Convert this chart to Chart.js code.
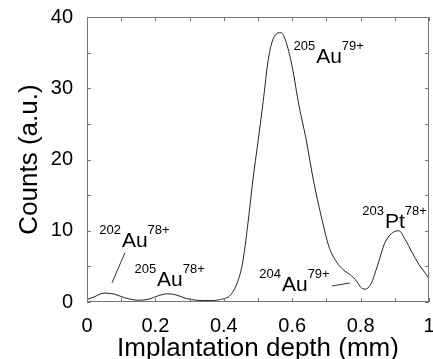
<!DOCTYPE html>
<html>
<head>
<meta charset="utf-8">
<script src="https://cdn.jsdelivr.net/npm/chart.js@4/dist/chart.umd.min.js"></script>
<style>
  html, body { margin: 0; padding: 0; background: #fff; }
  canvas { display: block; }
</style>
</head>
<body>
<canvas id="grafico" width="433" height="359"></canvas>
<script>
// profundidad de implantacion (mm) y cuentas (u.a.)
const profundidad = [0.00, 0.02, 0.05, 0.08, 0.11, 0.15, 0.18, 0.21, 0.235, 0.26, 0.29, 0.32, 0.36, 0.39,
  0.42, 0.44, 0.455, 0.47, 0.485, 0.50, 0.515, 0.53, 0.545, 0.567, 0.58, 0.60, 0.62, 0.64, 0.662,
  0.685, 0.708, 0.73, 0.75, 0.767, 0.78, 0.79, 0.80, 0.813, 0.83, 0.85, 0.87, 0.89, 0.912, 0.93,
  0.95, 0.97, 0.99, 1.00];
const cuentas = [0.35, 0.7, 1.25, 1.1, 0.6, 0.25, 0.4, 0.9, 1.15, 1.0, 0.5, 0.25, 0.2, 0.35,
  1.0, 2.8, 5.5, 10.8, 17.1, 22.5, 28.1, 34, 37, 37.8, 36.8, 33, 27.5, 23, 17.1,
  12, 7.7, 5.6, 4.5, 3.9, 3.4, 2.8, 2.1, 1.8, 2.5, 5.2, 8.2, 9.6, 10, 8.8,
  7, 5.3, 4, 3.3];

// etiquetas de isotopos
const masas = ['202', '205', '205', '204', '203'];
const elementos = ['Au', 'Au', 'Au', 'Au', 'Pt'];
const cargas = ['78+', '78+', '79+', '79+', '78+'];

// posiciones (en coordenadas de datos) de las etiquetas y lineas guia
const posEtiquetas = [[0.102, 7.7], [0.205, 2.3], [0.67, 33.5], [0.57, 1.6], [0.871, 10.4]];
const lineasGuia = [[[0.111, 6.9], [0.073, 2.7]], [[0.716, 2.25], [0.769, 2.67]]];

const fuente = "'Liberation Sans', Arial, Helvetica, sans-serif";

const marcoYAnotaciones = {
  id: 'marcoYAnotaciones',
  afterDraw(chart) {
    const ctx = chart.ctx;
    const a = chart.chartArea;
    const xs = chart.scales.x, ys = chart.scales.y;
    ctx.save();
    // marco
    ctx.strokeStyle = '#777';
    ctx.lineWidth = 1;
    ctx.strokeRect(a.left + 0.5, a.top + 0.5, a.right - a.left - 1, a.bottom - a.top - 1);
    // marcas hacia dentro
    ctx.beginPath();
    xs.ticks.forEach(t => {
      const px = Math.round(xs.getPixelForValue(t.value)) + 0.5;
      ctx.moveTo(px, a.bottom); ctx.lineTo(px, a.bottom - 4);
      ctx.moveTo(px, a.top); ctx.lineTo(px, a.top + 4);
    });
    ys.ticks.forEach(t => {
      const py = Math.round(ys.getPixelForValue(t.value)) + 0.5;
      ctx.moveTo(a.left, py); ctx.lineTo(a.left + 4, py);
      ctx.moveTo(a.right, py); ctx.lineTo(a.right - 4, py);
    });
    ctx.stroke();

    // lineas guia
    ctx.strokeStyle = '#333';
    ctx.beginPath();
    lineasGuia.forEach(([p, q]) => {
      ctx.moveTo(xs.getPixelForValue(p[0]), ys.getPixelForValue(p[1]));
      ctx.lineTo(xs.getPixelForValue(q[0]), ys.getPixelForValue(q[1]));
    });
    ctx.stroke();

    // etiquetas
    ctx.fillStyle = '#000';
    ctx.textBaseline = 'alphabetic';
    posEtiquetas.forEach((p, i) => {
      const x = xs.getPixelForValue(p[0]);
      const y = ys.getPixelForValue(p[1]);
      ctx.font = '21px ' + fuente;
      ctx.textAlign = 'left';
      ctx.fillText(elementos[i], x, y);
      const w = ctx.measureText(elementos[i]).width;
      ctx.font = '13px ' + fuente;
      ctx.fillText(cargas[i], x + w, y - 13);
      ctx.textAlign = 'right';
      ctx.fillText(masas[i], x - 1, y - 13);
    });
    ctx.restore();
  }
};

new Chart(document.getElementById('grafico'), {
  type: 'line',
  data: {
    datasets: [{
      data: profundidad.map((x, i) => ({ x: x, y: cuentas[i] })),
      borderColor: '#222',
      borderWidth: 1,
      pointRadius: 0,
      fill: false,
      cubicInterpolationMode: 'monotone'
    }]
  },
  options: {
    responsive: false,
    animation: false,
    layout: { padding: { top: 17, right: 4, left: 0, bottom: 0 } },
    plugins: { legend: { display: false }, tooltip: { enabled: false } },
    scales: {
      x: {
        type: 'linear',
        min: 0, max: 1,
        grid: { display: false, drawTicks: false },
        border: { display: false },
        ticks: {
          stepSize: 0.1,
          autoSkip: false,
          maxRotation: 0,
          padding: 12,
          color: '#000',
          font: { family: fuente, size: 20 },
          callback: v => {
            const n = Math.round(v * 10);
            if (n % 2 !== 0) return '';
            return n === 0 ? '0' : n === 10 ? '1' : (n / 10).toFixed(1);
          }
        },
        title: {
          display: true,
          text: 'Implantation depth (mm)',
          color: '#000',
          font: { family: fuente, size: 26, lineHeight: 0.8 },
          padding: 0
        },
        afterFit: s => { s.height = 57; s.paddingLeft = 0; s.paddingRight = 0; }
      },
      y: {
        min: 0, max: 40,
        grid: { display: false, drawTicks: false },
        border: { display: false },
        ticks: {
          stepSize: 5,
          padding: 14,
          color: '#000',
          font: { family: fuente, size: 20 },
          callback: v => (v % 10 === 0 ? String(v) : '')
        },
        title: {
          display: true,
          text: 'Counts (a.u.)',
          color: '#000',
          font: { family: fuente, size: 26, lineHeight: 0.8 },
          padding: { top: 19, bottom: 0 }
        },
        afterFit: s => { s.width = 87; s.paddingTop = 0; s.paddingBottom = 0; }
      }
    }
  },
  plugins: [marcoYAnotaciones]
});
</script>
</body>
</html>
